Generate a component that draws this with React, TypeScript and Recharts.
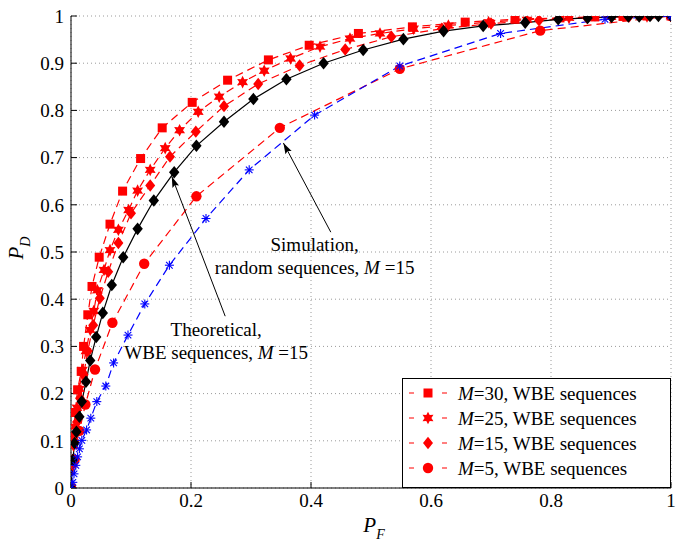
import React from 'react';
import {
  LineChart,
  Line,
  XAxis,
  YAxis,
  CartesianGrid,
  Legend,
  ReferenceLine,
  ReferenceDot,
  Label,
} from 'recharts';

type Pt = [number, number];

// ---------- data (P_F, P_D) ----------
const xTicks = [0, 0.2, 0.4, 0.6, 0.8, 1];
const yTicks = [0, 0.1, 0.2, 0.3, 0.4, 0.5, 0.6, 0.7, 0.8, 0.9, 1];

const wbeM30: Pt[] = [
  [0, 0], [0.002, 0.06], [0.004, 0.11], [0.007, 0.16], [0.011, 0.208], [0.017, 0.247],
  [0.021, 0.3], [0.028, 0.367], [0.035, 0.427], [0.047, 0.489], [0.065, 0.559], [0.086, 0.629],
  [0.116, 0.698], [0.152, 0.763], [0.202, 0.817], [0.261, 0.864], [0.329, 0.907], [0.397, 0.938],
  [0.479, 0.963], [0.569, 0.977], [0.657, 0.987], [0.74, 0.993], [0.815, 0.996], [0.873, 0.998],
  [0.92, 0.999], [0.96, 1.0], [1, 1],
];

const wbeM25: Pt[] = [
  [0, 0], [0.002, 0.05], [0.004, 0.09], [0.007, 0.13], [0.01, 0.17], [0.014, 0.21], [0.019, 0.25],
  [0.025, 0.29], [0.032, 0.335], [0.038, 0.375], [0.044, 0.419], [0.055, 0.462], [0.065, 0.504],
  [0.079, 0.547], [0.096, 0.589], [0.111, 0.63], [0.132, 0.674], [0.157, 0.72], [0.181, 0.758],
  [0.212, 0.797], [0.247, 0.829], [0.286, 0.86], [0.322, 0.884], [0.366, 0.91], [0.415, 0.935],
  [0.465, 0.952], [0.515, 0.963], [0.571, 0.973], [0.629, 0.98], [0.696, 0.987], [0.76, 0.992],
  [0.83, 0.996], [0.9, 0.998], [0.96, 0.999], [1, 1],
];

const wbeM15: Pt[] = [
  [0, 0], [0.003, 0.05], [0.006, 0.1], [0.01, 0.14], [0.015, 0.19], [0.021, 0.24], [0.028, 0.29],
  [0.037, 0.345], [0.048, 0.402], [0.062, 0.458], [0.079, 0.519], [0.1, 0.582], [0.132, 0.641],
  [0.165, 0.702], [0.208, 0.755], [0.255, 0.809], [0.312, 0.856], [0.381, 0.895], [0.457, 0.929],
  [0.534, 0.956], [0.618, 0.973], [0.7, 0.984], [0.78, 0.991], [0.86, 0.996], [0.93, 0.999], [1, 1],
];

const wbeM5: Pt[] = [
  [0, 0], [0.006, 0.06], [0.014, 0.121], [0.024, 0.177], [0.04, 0.251], [0.069, 0.35],
  [0.122, 0.475], [0.209, 0.618], [0.348, 0.763], [0.548, 0.888], [0.782, 0.969], [1, 1],
];

const theoryM15: Pt[] = [
  [0, 0], [0.003, 0.059], [0.006, 0.095], [0.009, 0.119], [0.014, 0.151], [0.018, 0.183],
  [0.025, 0.225], [0.032, 0.27], [0.042, 0.32], [0.053, 0.371], [0.068, 0.43], [0.087, 0.489],
  [0.111, 0.549], [0.138, 0.609], [0.172, 0.669], [0.209, 0.725], [0.255, 0.776], [0.304, 0.824],
  [0.359, 0.866], [0.421, 0.9], [0.487, 0.928], [0.554, 0.951], [0.621, 0.968], [0.687, 0.979],
  [0.757, 0.986], [0.812, 0.993], [0.861, 0.996], [0.901, 0.998], [0.929, 0.999], [0.947, 0.999],
  [0.965, 1.0], [0.979, 1.0], [1, 1],
];

const randomM15: Pt[] = [
  [0, 0], [0.003, 0.012], [0.005, 0.03], [0.008, 0.048], [0.011, 0.066], [0.014, 0.083],
  [0.018, 0.101], [0.026, 0.123], [0.033, 0.148], [0.043, 0.183], [0.058, 0.216], [0.071, 0.265],
  [0.095, 0.324], [0.123, 0.39], [0.164, 0.472], [0.225, 0.571], [0.297, 0.674], [0.406, 0.79],
  [0.548, 0.894], [0.716, 0.963], [0.89, 0.993], [1, 1],
];

const legendM = ['30', '25', '15', '5'];

// annotation anchors (data coordinates)
const theoryText = { pf: 0.242, pd: 0.335 };
const theoryArrow: Pt[] = [[0.257, 0.364], [0.168, 0.66]];
const simText = { pf: 0.406, pd: 0.515 };
const simArrow: Pt[] = [[0.433, 0.542], [0.354, 0.731]];

// ---------- styling ----------
const FONT = 'Liberation Serif';
const RED = '#ff0000';
const BLUE = '#0000ff';
const DASH = '8 5';

const rows = (pts: Pt[]) => pts.map(([pf, pd]) => ({ pf, pd }));

type MarkerKind = 'square' | 'hexagram' | 'diamond' | 'circle' | 'bdiamond' | 'asterisk';

function hexagramPoints(cx: number, cy: number, R: number, r: number) {
  const pts: string[] = [];
  for (let i = 0; i < 12; i++) {
    const a = -Math.PI / 2 + (i * Math.PI) / 6;
    const rad = i % 2 === 0 ? R : r;
    pts.push(`${cx + rad * Math.cos(a)},${cy + rad * Math.sin(a)}`);
  }
  return pts.join(' ');
}

function Marker({ kind, cx, cy }: { kind: MarkerKind; cx: number; cy: number }) {
  switch (kind) {
    case 'square':
      return <rect x={cx - 4.5} y={cy - 4.5} width={9} height={9} fill={RED} />;
    case 'hexagram':
      return <polygon points={hexagramPoints(cx, cy, 6.3, 3.4)} fill={RED} />;
    case 'diamond':
      return (
        <polygon
          points={`${cx},${cy - 6.2} ${cx + 5},${cy} ${cx},${cy + 6.2} ${cx - 5},${cy}`}
          fill={RED}
        />
      );
    case 'circle':
      return <circle cx={cx} cy={cy} r={5.2} fill={RED} />;
    case 'bdiamond':
      return (
        <polygon
          points={`${cx},${cy - 6.3} ${cx + 5.2},${cy} ${cx},${cy + 6.3} ${cx - 5.2},${cy}`}
          fill="#000"
        />
      );
    case 'asterisk':
    default:
      return (
        <g stroke={BLUE} strokeWidth={1.1}>
          <line x1={cx - 4.5} y1={cy} x2={cx + 4.5} y2={cy} />
          <line x1={cx} y1={cy - 4.5} x2={cx} y2={cy + 4.5} />
          <line x1={cx - 3.3} y1={cy - 3.3} x2={cx + 3.3} y2={cy + 3.3} />
          <line x1={cx - 3.3} y1={cy + 3.3} x2={cx + 3.3} y2={cy - 3.3} />
        </g>
      );
  }
}

const dotRenderer = (kind: MarkerKind) => (p: any) => {
  const key = `${kind}-${p.index}`;
  if (p.cx == null || p.cy == null) return <g key={key} />;
  return (
    <g key={key}>
      <Marker kind={kind} cx={p.cx} cy={p.cy} />
    </g>
  );
};

const legendKinds: MarkerKind[] = ['square', 'hexagram', 'diamond', 'circle'];

const LegendBox = () => (
  <div
    style={{
      width: 269,
      height: 110,
      border: '1px solid #000',
      background: '#fff',
      boxSizing: 'border-box',
    }}
  >
    <svg width={267} height={108} style={{ display: 'block' }}>
      {legendM.map((m, i) => {
        const cy = 14 + i * 25;
        return (
          <g key={m}>
            <line x1={6} x2={44} y1={cy} y2={cy} stroke={RED} strokeWidth={1.2} strokeDasharray="5 28" />
            <Marker kind={legendKinds[i]} cx={25} cy={cy} />
            <text x={55} y={cy + 6.5} fontFamily={FONT} fontSize={19} fill="#000">
              <tspan fontStyle="italic">M</tspan>={m}, WBE sequences
            </text>
          </g>
        );
      })}
    </svg>
  </div>
);

const Arrow = (p: any) => {
  const { x1, y1, x2, y2 } = p;
  if ([x1, y1, x2, y2].some((v) => v == null || isNaN(v))) return <g />;
  const dx = x2 - x1;
  const dy = y2 - y1;
  const len = Math.sqrt(dx * dx + dy * dy);
  const ux = dx / len;
  const uy = dy / len;
  const hl = 11;
  const hw = 3.5;
  const bx = x2 - ux * hl;
  const by = y2 - uy * hl;
  return (
    <g>
      <line x1={x1} y1={y1} x2={x2} y2={y2} stroke="#000" strokeWidth={1} />
      <polygon
        points={`${x2},${y2} ${bx - uy * hw},${by + ux * hw} ${bx + ux * 2},${by + uy * 2} ${bx + uy * hw},${by - ux * hw}`}
        fill="#000"
      />
    </g>
  );
};

const TwoLine = (line1: React.ReactNode, line2: React.ReactNode) => (p: any) => {
  if (p.cx == null || p.cy == null) return <g />;
  return (
    <g>
      <text x={p.cx} y={p.cy + 6.5} textAnchor="middle" fontFamily={FONT} fontSize={19} fill="#000">
        {line1}
      </text>
      <text x={p.cx} y={p.cy + 29.5} textAnchor="middle" fontFamily={FONT} fontSize={19} fill="#000">
        {line2}
      </text>
    </g>
  );
};

const tickStyle = { fill: '#000', fontSize: 19, fontFamily: FONT };

export default function App() {
  return (
    <div style={{ position: 'absolute', left: 0, top: 0, fontFamily: FONT }}>
      <LineChart width={685} height={549} margin={{ top: 16, right: 14, bottom: 0, left: 0 }}>
        <CartesianGrid stroke="#9a9a9a" strokeDasharray="1 3" />
        <XAxis
          dataKey="pf"
          type="number"
          domain={[0, 1]}
          ticks={xTicks}
          interval={0}
          allowDataOverflow
          height={61}
          tickSize={-6}
          tickMargin={12}
          tickLine={{ stroke: '#000' }}
          axisLine={{ stroke: '#000' }}
          tick={tickStyle}
          tickFormatter={(v: number) => String(v)}
        >
          <Label
            content={(props: any) => {
              const vb = props.viewBox || { x: 71, y: 488, width: 600 };
              const cx = vb.x + vb.width / 2 + 3;
              return (
                <text x={cx} y={vb.y + 44} textAnchor="middle" fontFamily={FONT} fontSize={21} fill="#000">
                  <tspan fontStyle="italic">P</tspan>
                  <tspan fontStyle="italic" fontSize={14} dy={7}>F</tspan>
                </text>
              );
            }}
          />
        </XAxis>
        <XAxis
          xAxisId="top"
          orientation="top"
          mirror
          type="number"
          domain={[0, 1]}
          ticks={xTicks}
          interval={0}
          allowDataOverflow
          height={0}
          tick={false}
          tickSize={6}
          tickLine={{ stroke: '#000' }}
          axisLine={{ stroke: '#000' }}
        />
        <YAxis
          type="number"
          domain={[0, 1]}
          ticks={yTicks}
          interval={0}
          allowDataOverflow
          width={71}
          tickSize={-6}
          tickMargin={13}
          tickLine={{ stroke: '#000' }}
          axisLine={{ stroke: '#000' }}
          tick={tickStyle}
          tickFormatter={(v: number) => String(v)}
        >
          <Label
            content={(props: any) => {
              const vb = props.viewBox || { x: 0, y: 16, height: 472 };
              const cy = vb.y + vb.height / 2 - 4;
              const bx = 23;
              return (
                <text
                  x={bx}
                  y={cy}
                  transform={`rotate(-90, ${bx}, ${cy})`}
                  textAnchor="middle"
                  fontFamily={FONT}
                  fontSize={21}
                  fill="#000"
                >
                  <tspan fontStyle="italic">P</tspan>
                  <tspan fontStyle="italic" fontSize={14} dy={7}>D</tspan>
                </text>
              );
            }}
          />
        </YAxis>
        <YAxis
          yAxisId="right"
          orientation="right"
          mirror
          type="number"
          domain={[0, 1]}
          ticks={yTicks}
          interval={0}
          allowDataOverflow
          width={0}
          tick={false}
          tickSize={6}
          tickLine={{ stroke: '#000' }}
          axisLine={{ stroke: '#000' }}
        />

        <Line data={rows(wbeM30)} dataKey="pd" type="linear" stroke={RED} strokeWidth={1.2} strokeDasharray={DASH} dot={dotRenderer('square')} activeDot={false} isAnimationActive={false} />
        <Line data={rows(wbeM25)} dataKey="pd" type="linear" stroke={RED} strokeWidth={1.2} strokeDasharray={DASH} dot={dotRenderer('hexagram')} activeDot={false} isAnimationActive={false} />
        <Line data={rows(wbeM15)} dataKey="pd" type="linear" stroke={RED} strokeWidth={1.2} strokeDasharray={DASH} dot={dotRenderer('diamond')} activeDot={false} isAnimationActive={false} />
        <Line data={rows(wbeM5)} dataKey="pd" type="linear" stroke={RED} strokeWidth={1.2} strokeDasharray={DASH} dot={dotRenderer('circle')} activeDot={false} isAnimationActive={false} />
        <Line data={rows(theoryM15)} dataKey="pd" type="linear" stroke="#000" strokeWidth={1.2} dot={dotRenderer('bdiamond')} activeDot={false} isAnimationActive={false} />
        <Line data={rows(randomM15)} dataKey="pd" type="linear" stroke={BLUE} strokeWidth={1.2} strokeDasharray={DASH} dot={dotRenderer('asterisk')} activeDot={false} isAnimationActive={false} />

        <ReferenceLine
          segment={[
            { x: theoryArrow[0][0], y: theoryArrow[0][1] },
            { x: theoryArrow[1][0], y: theoryArrow[1][1] },
          ]}
          ifOverflow="visible"
          shape={Arrow}
        />
        <ReferenceLine
          segment={[
            { x: simArrow[0][0], y: simArrow[0][1] },
            { x: simArrow[1][0], y: simArrow[1][1] },
          ]}
          ifOverflow="visible"
          shape={Arrow}
        />
        <ReferenceDot
          x={theoryText.pf}
          y={theoryText.pd}
          r={1}
          ifOverflow="visible"
          shape={TwoLine(
            'Theoretical,',
            <>
              WBE sequences, <tspan fontStyle="italic">M</tspan> =15
            </>
          )}
        />
        <ReferenceDot
          x={simText.pf}
          y={simText.pd}
          r={1}
          ifOverflow="visible"
          shape={TwoLine(
            'Simulation,',
            <>
              random sequences, <tspan fontStyle="italic">M</tspan> =15
            </>
          )}
        />

        <Legend
          layout="vertical"
          align="center"
          verticalAlign="middle"
          wrapperStyle={{ left: 402, top: 378, width: 269, height: 110 }}
          content={() => <LegendBox />}
        />
      </LineChart>
    </div>
  );
}
